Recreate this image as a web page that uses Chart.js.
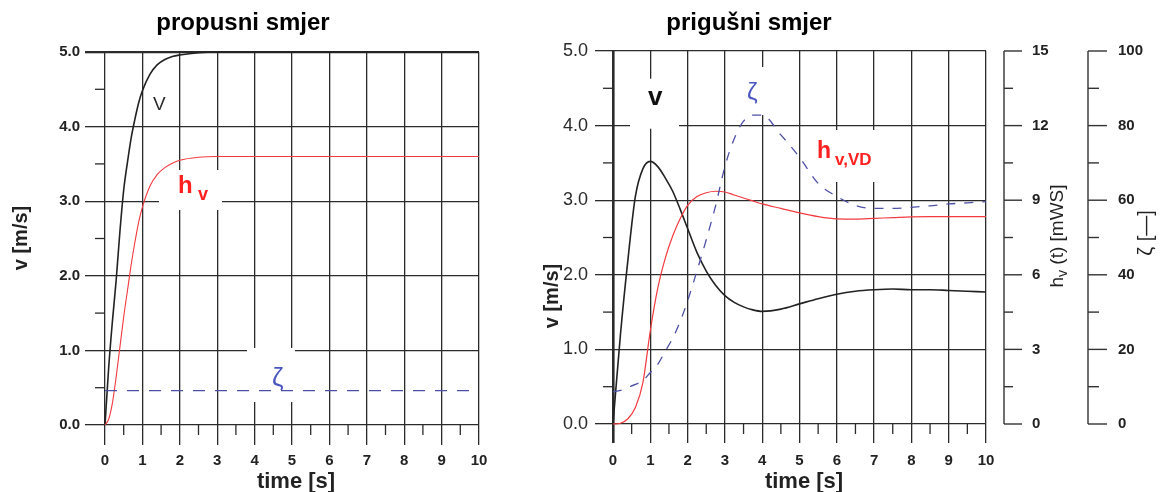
<!DOCTYPE html>
<html><head><meta charset="utf-8">
<script src="https://cdn.jsdelivr.net/npm/chart.js@4/dist/chart.umd.min.js"></script>
<style>
html,body{margin:0;padding:0;background:#fff;}
#wrap{position:relative;width:1167px;height:492px;overflow:hidden;background:#fff;}
#c1{position:absolute;left:0;top:0;}
#c2{position:absolute;left:540px;top:0;}
</style></head><body>
<div id="wrap">
<canvas id="c1" width="540" height="492"></canvas>
<canvas id="c2" width="627" height="492"></canvas>
</div>
<script>
const FONT = "'Liberation Sans', Arial, Helvetica, sans-serif";

// ---------- tick labels ----------
const xTickLabels = ['0','1','2','3','4','5','6','7','8','9','10'];
const vTickLabels = ['0.0','1.0','2.0','3.0','4.0','5.0'];
const hTickLabels = ['0','3','6','9','12','15'];
const zetaTickLabels = ['0','20','40','60','80','100'];

// ---------- left chart: propusni smjer ----------
const timeLeft = [0,0.1,0.2,0.3,0.4,0.5,0.6,0.7,0.8,0.9,1.0,1.2,1.4,1.6,1.8,2.0,2.5,3.0,4,5,6,7,8,9,10];
const vLeft    = [0,0.78,1.4,1.95,2.6,3.15,3.52,3.85,4.1,4.32,4.48,4.7,4.83,4.9,4.94,4.96,4.99,5,5,5,5,5,5,5,5];
const hLeft    = [0,0.08,0.3,0.65,1.05,1.45,1.8,2.15,2.45,2.72,2.92,3.2,3.36,3.45,3.51,3.55,3.59,3.6,3.6,3.6,3.6,3.6,3.6,3.6,3.6];
const zetaLeftTime = [0,10];
const zetaLeft     = [0.46,0.46];

// ---------- right chart: prigušni smjer ----------
const timeRight = [0,0.2,0.4,0.6,0.8,1.0,1.2,1.4,1.6,1.8,2.0,2.25,2.5,2.75,3.0,3.25,3.5,3.75,4.0,4.5,5.0,5.5,6.0,6.5,7,7.5,8,8.5,9,9.5,10];
const vRight    = [0,1.2,2.2,3.05,3.42,3.52,3.45,3.3,3.12,2.88,2.62,2.3,2.05,1.86,1.72,1.63,1.57,1.53,1.51,1.54,1.61,1.68,1.74,1.78,1.80,1.81,1.80,1.80,1.79,1.78,1.77];
const hRight    = [0,0.03,0.21,0.66,1.65,3.75,5.46,6.66,7.56,8.25,8.79,9.15,9.3,9.36,9.33,9.21,9.09,8.97,8.85,8.67,8.49,8.34,8.25,8.24,8.27,8.3,8.33,8.34,8.34,8.34,8.34];
const zetaRight = [8.6,9.0,9.8,10.6,11.6,13.8,16,19.5,23,27.5,33,41,49.4,58.5,69,76.5,81.2,82.8,82.8,77.5,71.5,64.5,61,58.6,57.8,57.8,58.1,58.5,59,59.3,59.6];

const GRID = '#2b2b2b';
const RED = '#f23a3f';
const BLUE = '#4e50a6';
const BLACK = '#222';

const pts = (xs, ys) => xs.map((t, i) => ({x: t, y: ys[i]}));
const mids = labels => labels.slice(1).map((l, i) => (parseFloat(l) + parseFloat(labels[i])) / 2);
const ticksFrom = labels => labels.map(l => ({value: parseFloat(l)}));

function line(ctx, x1, y1, x2, y2) { ctx.beginPath(); ctx.moveTo(x1, y1); ctx.lineTo(x2, y2); ctx.stroke(); }

function decorPlugin(cfg) {
  return {
    id: 'decor',
    beforeDraw(chart) {
      const c = chart.ctx; c.save(); c.fillStyle = '#fff'; c.fillRect(0, 0, chart.width, chart.height); c.restore();
    },
    beforeDatasetsDraw(chart) {
      const ctx = chart.ctx, x = chart.scales.x, y = chart.scales.y;
      ctx.save();
      ctx.strokeStyle = GRID; ctx.lineWidth = 1.3;
      mids(xTickLabels).forEach(t => { const px = x.getPixelForValue(t); line(ctx, px, y.bottom, px, y.bottom + cfg.minorLen); });
      mids(vTickLabels).forEach(v => { const py = y.getPixelForValue(v); line(ctx, x.left - cfg.minorLen, py, x.left, py); });
      ctx.fillStyle = '#fff';
      cfg.notes.forEach(n => {
        if (!n.box) return;
        const px = x.getPixelForValue(n.t), py = y.getPixelForValue(n.v), b = n.box;
        ctx.fillRect(px + b[0], py + b[1], b[2] - b[0], b[3] - b[1]);
      });
      ctx.restore();
    },
    afterDraw(chart) {
      const ctx = chart.ctx, x = chart.scales.x, y = chart.scales.y;
      ctx.save();
      // annotations
      cfg.notes.forEach(n => {
        const px = x.getPixelForValue(n.t), py = y.getPixelForValue(n.v);
        n.parts.forEach(p => {
          ctx.font = p.font; ctx.fillStyle = p.color; ctx.textAlign = 'left'; ctx.textBaseline = 'alphabetic';
          ctx.fillText(p.text, px + p.dx, py + p.dy);
        });
      });
      // chart title
      ctx.fillStyle = '#000'; ctx.textAlign = 'center'; ctx.textBaseline = 'alphabetic';
      ctx.font = 'bold 24px ' + FONT;
      ctx.fillText(cfg.title, cfg.titleX, 30);
      // x axis title
      ctx.fillStyle = BLACK; ctx.font = 'bold 22px ' + FONT; ctx.textBaseline = 'middle';
      ctx.fillText('time [s]', cfg.xTitleX, 482);
      // y axis title
      ctx.save();
      ctx.translate(cfg.yTitleX, cfg.yTitleY); ctx.rotate(-Math.PI / 2);
      ctx.font = 'bold 20px ' + FONT; ctx.textAlign = 'center'; ctx.textBaseline = 'middle';
      ctx.fillText('v [m/s]', 0, 0);
      ctx.restore();
      if (cfg.extraAxes) cfg.extraAxes(chart);
      ctx.restore();
    }
  };
}

function baseScales(o) {
  return {
    x: {
      type: 'linear', min: 0, max: 10, position: 'bottom',
      afterFit: s => { s.height = o.xHeight; },
      afterBuildTicks: s => { s.ticks = ticksFrom(xTickLabels); },
      ticks: { autoSkip: false, maxRotation: 0, padding: o.xPad, color: BLACK,
               font: {family: FONT, size: 15, weight: 'bold'}, callback: (v, i) => xTickLabels[i] },
      grid: { color: GRID, lineWidth: o.xLineWidth, tickLength: o.xTick, tickColor: GRID },
      border: { display: false }
    },
    y: {
      type: 'linear', min: 0, max: 5, position: 'left',
      afterFit: s => { s.width = o.yWidth; },
      afterBuildTicks: s => { s.ticks = ticksFrom(vTickLabels); },
      ticks: { autoSkip: false, padding: o.yPad, color: o.yColor,
               font: {family: FONT, size: o.ySize, weight: o.yWeight}, callback: (v, i) => vTickLabels[i] },
      grid: { color: GRID, lineWidth: o.yLineWidth, tickLength: o.yTick, tickColor: GRID },
      border: { display: false }
    }
  };
}

// ---------- left chart ----------
new Chart(document.getElementById('c1'), {
  type: 'line',
  data: { datasets: [
    { label: 'ζ', data: pts(zetaLeftTime, zetaLeft), borderColor: BLUE, borderWidth: 1.3, borderDash: [12, 10], pointRadius: 0 },
    { label: 'h_v', data: pts(timeLeft, hLeft), borderColor: RED, borderWidth: 1.1, pointRadius: 0, cubicInterpolationMode: 'monotone' },
    { label: 'v', data: pts(timeLeft, vLeft), borderColor: BLACK, borderWidth: 1.6, pointRadius: 0, cubicInterpolationMode: 'monotone' }
  ]},
  options: {
    responsive: false, animation: false, clip: false,
    layout: { autoPadding: false, padding: { left: 0, top: 52, right: 61, bottom: 0 } },
    plugins: { legend: { display: false }, tooltip: { enabled: false }, title: { display: false } },
    scales: baseScales({ xHeight: 67, xPad: 7, xTick: 20, xLineWidth: 1.3,
      yWidth: 105, yPad: 5, yTick: 20, yColor: BLACK, ySize: 15, yWeight: 'bold',
      yLineWidth: c => (c.tick && c.tick.value === 5) ? 2.3 : 1.3 })
  },
  plugins: [decorPlugin({
    minorLen: 10, title: 'propusni smjer', titleX: 243, xTitleX: 296, yTitleX: 21, yTitleY: 238,
    notes: [
      { t: 1.283, v: 4.22, parts: [{ text: 'V', font: '19px ' + FONT, color: '#2a2a2a', dx: 0, dy: 0 }] },
      { t: 1.952, v: 3.11, box: [-19, -23, 44, 17], parts: [
        { text: 'h', font: 'bold 24px ' + FONT, color: '#ff2020', dx: 0, dy: 0 },
        { text: 'v', font: 'bold 18px ' + FONT, color: '#ff2020', dx: 20, dy: 7 }] },
      { t: 4.465, v: 0.523, box: [-25, -38, 23, 16], parts: [
        { text: 'ζ', font: '26px ' + FONT, color: '#4a55c0', dx: 0, dy: 0 }] }
    ]
  })]
});

// ---------- right chart ----------
new Chart(document.getElementById('c2'), {
  type: 'line',
  data: { datasets: [
    { label: 'ζ', data: pts(timeRight, zetaRight), yAxisID: 'z', borderColor: BLUE, borderWidth: 1.3, borderDash: [9, 9], pointRadius: 0, cubicInterpolationMode: 'monotone' },
    { label: 'h_v,VD', data: pts(timeRight, hRight), yAxisID: 'h', borderColor: RED, borderWidth: 1.2, pointRadius: 0, cubicInterpolationMode: 'monotone' },
    { label: 'v', data: pts(timeRight, vRight), yAxisID: 'y', borderColor: BLACK, borderWidth: 1.6, pointRadius: 0, cubicInterpolationMode: 'monotone' }
  ]},
  options: {
    responsive: false, animation: false, clip: false,
    layout: { autoPadding: false, padding: { left: 0, top: 51, right: 181, bottom: 0 } },
    plugins: { legend: { display: false }, tooltip: { enabled: false }, title: { display: false } },
    scales: Object.assign(baseScales({ xHeight: 68, xPad: 9, xTick: 19,
      xLineWidth: c => (c.tick && c.tick.value === 0) ? 2.6 : 1.3,
      yWidth: 73, yPad: 7, yTick: 18, yColor: '#2a2a2a', ySize: 18, yWeight: 'normal', yLineWidth: 1.3 }), {
      h: { type: 'linear', display: false, position: 'right', min: 0, max: 15,
           afterBuildTicks: s => { s.ticks = ticksFrom(hTickLabels); } },
      z: { type: 'linear', display: false, position: 'right', min: 0, max: 100,
           afterBuildTicks: s => { s.ticks = ticksFrom(zetaTickLabels); } }
    })
  },
  plugins: [decorPlugin({
    minorLen: 10, title: 'prigušni smjer', titleX: 209, xTitleX: 264, yTitleX: 12, yTitleY: 296,
    notes: [
      { t: 0.938, v: 4.28, box: [-18, -26, 31, 24], parts: [
        { text: 'v', font: 'bold 26px ' + FONT, color: '#111', dx: 0, dy: 0 }] },
      { t: 3.592, v: 4.343, box: [-12, -33, 43, 15], parts: [
        { text: 'ζ', font: '24px ' + FONT, color: '#4a55c0', dx: 0, dy: 0 }] },
      { t: 5.469, v: 3.566, box: [-9, -28, 68, 24], parts: [
        { text: 'h', font: 'bold 23px ' + FONT, color: '#ff2020', dx: 0, dy: 0 },
        { text: 'v,VD', font: 'bold 17px ' + FONT, color: '#ff2020', dx: 18, dy: 7 }] }
    ],
    extraAxes(chart) {
      const ctx = chart.ctx;
      const drawAxis = (scale, labels, axX, major, minor, labX) => {
        ctx.strokeStyle = '#333'; ctx.lineWidth = 1.4;
        const top = scale.getPixelForValue(parseFloat(labels[labels.length - 1]));
        const bot = scale.getPixelForValue(parseFloat(labels[0]));
        line(ctx, axX, top, axX, bot);
        labels.forEach(l => { const py = scale.getPixelForValue(parseFloat(l)); line(ctx, axX, py, axX + major, py); });
        mids(labels).forEach(v => { const py = scale.getPixelForValue(v); line(ctx, axX, py, axX + minor, py); });
        ctx.fillStyle = BLACK; ctx.font = 'bold 15px ' + FONT; ctx.textAlign = 'left'; ctx.textBaseline = 'middle';
        labels.forEach(l => ctx.fillText(l, labX, scale.getPixelForValue(parseFloat(l))));
      };
      drawAxis(chart.scales.h, hTickLabels, 464, 18, 9, 492);
      drawAxis(chart.scales.z, zetaTickLabels, 548, 19, 11, 578);
      // h axis title with subscript, rotated
      ctx.save();
      ctx.translate(518, 236); ctx.rotate(-Math.PI / 2);
      ctx.fillStyle = '#222'; ctx.textBaseline = 'middle'; ctx.textAlign = 'left';
      const f1 = '19px ' + FONT, f2 = '14px ' + FONT;
      ctx.font = f1; const w1 = ctx.measureText('h').width; const w3 = ctx.measureText(' (t) [mWS]').width;
      ctx.font = f2; const w2 = ctx.measureText('v').width;
      let sx = -(w1 + w2 + w3) / 2;
      ctx.font = f1; ctx.fillText('h', sx, 0); sx += w1;
      ctx.font = f2; ctx.fillText('v', sx, 5); sx += w2;
      ctx.font = f1; ctx.fillText(' (t) [mWS]', sx, 0);
      ctx.restore();
      // zeta axis title
      ctx.save();
      ctx.translate(606, 233); ctx.rotate(-Math.PI / 2);
      ctx.fillStyle = '#222'; ctx.font = '20px ' + FONT; ctx.textAlign = 'center'; ctx.textBaseline = 'middle';
      ctx.fillText('ζ [—]', 0, 0);
      ctx.restore();
    }
  })]
});
</script>
</body></html>
